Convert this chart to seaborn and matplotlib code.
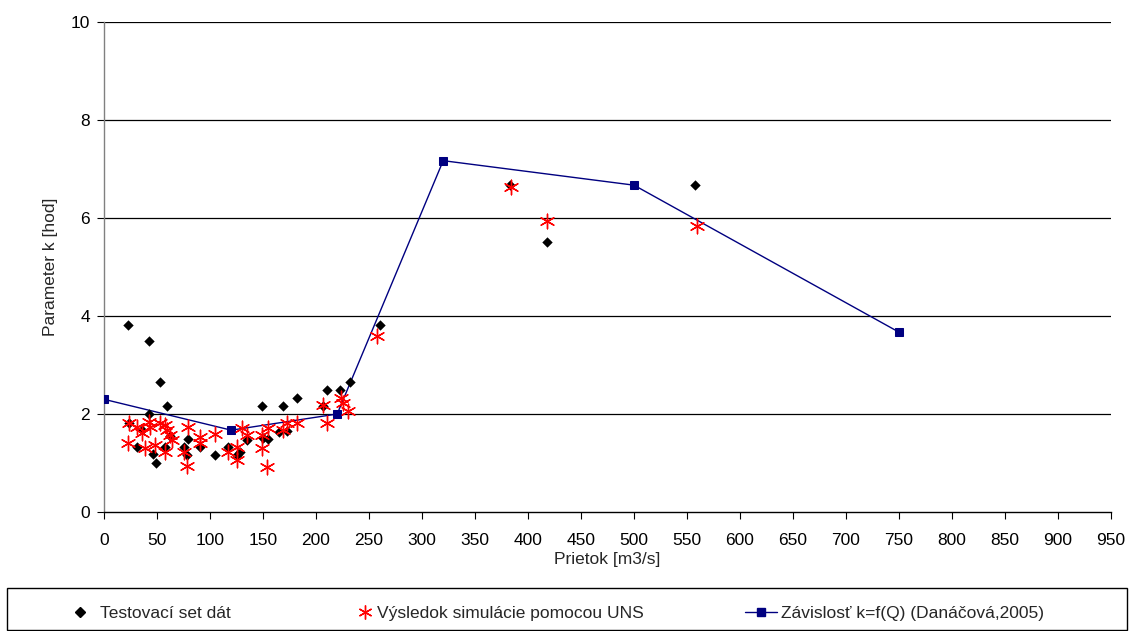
import matplotlib
matplotlib.use("Agg")
import matplotlib.pyplot as plt
import seaborn as sns
import pandas as pd
from matplotlib.lines import Line2D
from matplotlib.patches import Rectangle

# ---- data ----
test_q = [23, 42, 53, 59, 42, 24, 31, 46, 49, 58, 75, 78, 79, 91, 105, 117, 125,
          135, 149, 150, 155, 169, 173, 182, 207, 210, 223, 232, 260, 383, 418, 558,
          36, 62, 128, 165]
test_k = [3.82, 3.49, 2.65, 2.16, 2.0, 1.82, 1.33, 1.18, 1.0, 1.33, 1.33, 1.16, 1.49,
          1.33, 1.16, 1.33, 1.16, 1.47, 2.16, 1.51, 1.49, 2.16, 1.65, 2.33, 2.16, 2.49,
          2.49, 2.65, 3.82, 6.67, 5.51, 6.67, 1.67, 1.55, 1.22, 1.63]

sim_q = [24, 23, 31, 36, 39, 42, 43, 48, 53, 58, 59, 62, 64, 58, 75, 79, 78, 91, 91,
         105, 117, 125, 125, 130, 135, 149, 149, 155, 154, 169, 173, 182, 207, 224,
         225, 230, 210, 258, 384, 418, 559]
sim_k = [1.82, 1.41, 1.73, 1.61, 1.30, 1.84, 1.73, 1.37, 1.82, 1.78, 1.67, 1.57, 1.47,
         1.22, 1.22, 1.73, 0.94, 1.53, 1.41, 1.59, 1.22, 1.33, 1.06, 1.71, 1.57, 1.57,
         1.31, 1.71, 0.92, 1.67, 1.82, 1.82, 2.18, 2.33, 2.22, 2.06, 1.82, 3.59, 6.63,
         5.94, 5.84]

dep_q = [0, 120, 220, 320, 500, 750]
dep_k = [2.30, 1.67, 2.00, 7.17, 6.67, 3.67]

x_ticks = list(range(0, 951, 50))
y_ticks = [0, 2, 4, 6, 8, 10]

lab_test = "Testovací set dát"
lab_sim = "Výsledok simulácie pomocou UNS"
lab_dep = "Závislosť k=f(Q) (Danáčová,2005)"

# ---- style ----
sns.set_theme(style="white")
plt.rcParams["font.family"] = ["Liberation Sans", "DejaVu Sans"]
FS = 12.5

W, H = 1130, 631
fig = plt.figure(figsize=(W/100, H/100), dpi=100)
ax = fig.add_axes([104/W, 1-512/H, (1111-104)/W, (512-22)/H])

df_test = pd.DataFrame({"Q": test_q, "k": test_k})
df_sim = pd.DataFrame({"Q": sim_q, "k": sim_k})
df_dep = pd.DataFrame({"Q": dep_q, "k": dep_k})

for y in y_ticks[1:]:
    ax.axhline(y, color="black", lw=0.9, zorder=0)

sns.lineplot(data=df_dep, x="Q", y="k", sort=False, ax=ax, color="#000080",
             lw=1.0, marker="s", markersize=6, markeredgecolor="#000080",
             markerfacecolor="#000080", zorder=3)
sns.scatterplot(data=df_test, x="Q", y="k", ax=ax, marker="D", s=28,
                color="black", edgecolor="black", linewidth=0, zorder=4)
sns.scatterplot(data=df_sim, x="Q", y="k", ax=ax, marker=(6, 2, 0), s=110,
                color="red", edgecolor="red", linewidth=1.0, zorder=5)

ax.set_xlim(0, 950)
ax.set_ylim(0, 10)
ax.set_xticks(x_ticks)
ax.set_yticks(y_ticks)
ax.set_xticklabels([str(v) for v in x_ticks], fontsize=FS)
ax.set_yticklabels([str(v) for v in y_ticks], fontsize=FS)
ax.tick_params(axis="both", direction="out", length=5, width=0.8, colors="black",
               bottom=True, left=True)
ax.tick_params(axis="x", pad=10)
ax.tick_params(axis="y", pad=5)
ax.set_xlabel("Prietok [m3/s]", fontsize=FS, labelpad=3)
ax.set_ylabel("Parameter k [hod]", fontsize=FS, labelpad=9)
for s in ["top", "right"]:
    ax.spines[s].set_visible(False)
ax.spines["left"].set_color("#808080")
ax.spines["bottom"].set_color("black")
ax.spines["left"].set_linewidth(1.0)
ax.spines["bottom"].set_linewidth(1.0)
ax.set_facecolor("white")

# ---- legend box ----
fig.patches.append(Rectangle((7/W, 1-630/H), (1127-7)/W, (630-588)/H,
                             transform=fig.transFigure, fill=False,
                             edgecolor="black", lw=1.0))
fs_px = FS*100/72
entries = [
    (Line2D([], [], marker="D", color="black", ls="none", markersize=5), lab_test, 73, 0.8, 0.75),
    (Line2D([], [], marker=(6, 2, 0), color="red", mec="red", ls="none", markersize=10), lab_sim, 358, 0.8, 0.3),
    (Line2D([], [], marker="s", color="#000080", mec="#000080", lw=1.0, markersize=5.5), lab_dep, 745, 32/fs_px, 0.23),
]
for h, lab, xpx, hl, htp in entries:
    fig.legend([h], [lab], loc="center left",
               bbox_to_anchor=(xpx/W, 1-613/H), frameon=False,
               fontsize=FS, handlelength=hl, handletextpad=htp,
               borderpad=0, borderaxespad=0)

fig.savefig("out.png", dpi=100, facecolor="white")
